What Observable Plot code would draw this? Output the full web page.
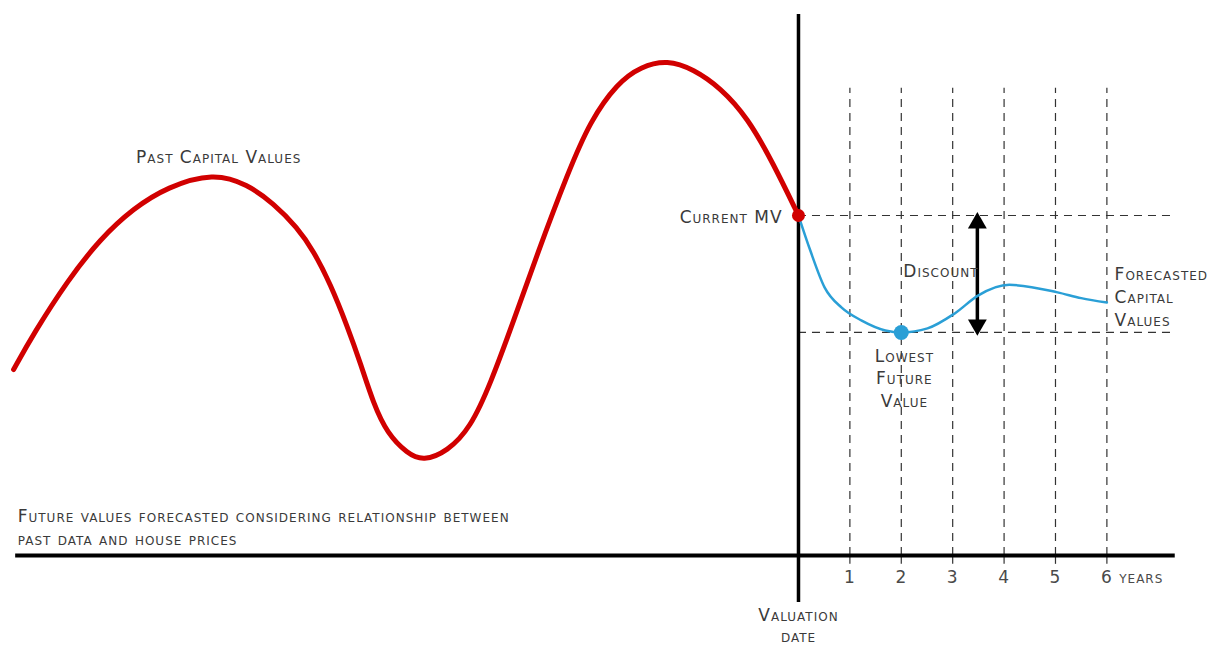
<!DOCTYPE html>
<html>
<head>
<meta charset="utf-8">
<script src="https://cdn.jsdelivr.net/npm/d3@7"></script>
<script src="https://cdn.jsdelivr.net/npm/@observablehq/plot@0.6"></script>
<style>
  html, body { margin: 0; padding: 0; background: #fff; }
  #chart svg { display: block; }
</style>
</head>
<body>
<div id="chart"></div>
<script>
// Past capital values (years relative to valuation date, index with current MV = 100)
const pastYears = [-15.27, -14.88, -14.22, -13.58, -12.94, -12.28, -11.38, -10.72, -10.21, -9.75, -9.44, -9.11, -8.77, -8.52, -8.27, -8.00, -7.61, -7.30, -6.83, -6.38, -5.99, -5.54, -5.08, -4.49, -4.05, -3.52, -3.07, -2.55, -2.04, -1.52, -0.99, -0.49, 0];
const pastValues = [54.7, 65.3, 80.9, 93.2, 102.1, 108.4, 112.6, 109.2, 103.5, 96.5, 89.7, 80.0, 67.1, 56.5, 44.7, 35.9, 30.0, 27.8, 30.6, 37.6, 50.6, 69.1, 88.8, 112.4, 127.9, 139.0, 143.8, 145.8, 143.0, 137.6, 128.8, 115.3, 100];

// Forecasted capital values
const forecastYears = [0, 0.23, 0.51, 0.84, 1.23, 1.69, 2.0, 2.51, 3.04, 3.50, 4.1, 5.04, 5.5, 6.0];
const forecastValues = [100, 89.7, 78.8, 72.9, 69.1, 66.2, 65.6, 66.8, 71.2, 76.5, 79.6, 77.4, 75.7, 74.4];

const currentMV = 100;
const lowestYear = 2;
const lowestValue = 65.6;
const discountYear = 3.48;

const tickYears = [1, 2, 3, 4, 5, 6];
const tickLabels = ["1", "2", "3", "4", "5", "6"];

const past = pastYears.map((x, i) => ({x, y: pastValues[i]}));
const forecast = forecastYears.map((x, i) => ({x, y: forecastValues[i]}));
const ticks = tickYears.map((x, i) => ({x, label: tickLabels[i]}));

const ink = "#333";
const red = "#d10000";
const blue = "#2a9fd6";
const font = {fontVariant: "small-caps", fill: "#3a3a3a", fontSize: 17};

const chart = Plot.plot({
  width: 1217,
  height: 645,
  margin: 0,
  x: {domain: [-15.525, 8.152], range: [0, 1217], axis: null},
  y: {domain: [-26.47, 163.24], range: [645, 0], axis: null},
  style: {fontFamily: "'DejaVu Sans', sans-serif", background: "#fff", letterSpacing: "1px"},
  marks: [
    // dashed guides
    Plot.ruleX(tickYears, {y1: 0, y2: 137.4, stroke: ink, strokeWidth: 1.2, strokeDasharray: "8,6"}),
    Plot.ruleY([currentMV, lowestValue], {x1: 0, x2: 7.25, stroke: ink, strokeWidth: 1.2, strokeDasharray: "8,6"}),
    // tick marks below axis
    Plot.ruleX(tickYears, {y1: -2.6, y2: 0, stroke: ink, strokeWidth: 1.2}),
    // axes
    Plot.ruleY([0], {x1: -15.23, x2: 7.33, stroke: "#000", strokeWidth: 4}),
    Plot.ruleX([0], {y1: -13.8, y2: 159.1, stroke: "#000", strokeWidth: 3.5}),
    // discount arrow
    Plot.ruleX([discountYear], {y1: lowestValue + 2.5, y2: currentMV - 2.5, stroke: "#000", strokeWidth: 3.5}),
    Plot.dot([{x: discountYear, y: currentMV - 2.2}], {x: "x", y: "y", symbol: "triangle", r: 7, fill: "#000", stroke: "none"}),
    Plot.dot([{x: discountYear, y: lowestValue + 2.2}], {x: "x", y: "y", symbol: "triangle", r: 7, fill: "#000", stroke: "none", rotate: 180}),
    // series
    Plot.line(forecast, {x: "x", y: "y", stroke: blue, strokeWidth: 2.5, curve: "monotone-x"}),
    Plot.line(past, {x: "x", y: "y", stroke: red, strokeWidth: 5, curve: "basis"}),
    Plot.dot([{x: 0, y: currentMV}], {x: "x", y: "y", r: 6.5, fill: red}),
    Plot.dot([{x: lowestYear, y: lowestValue}], {x: "x", y: "y", r: 7.5, fill: blue}),
    // tick labels
    Plot.text(ticks, {x: "x", y: -6.5, text: "label", fontSize: 17, fill: "#4a4a4a"}),
    Plot.text(["years"], {x: 6.24, y: -6.5, text: d => d, textAnchor: "start", ...font, fill: "#4a4a4a"}),
    // annotations
    Plot.text(["Past Capital Values"], {x: -11.28, y: 117.1, text: d => d, ...font}),
    Plot.text(["Current MV"], {x: -0.31, y: 99.4, text: d => d, textAnchor: "end", ...font}),
    Plot.text(["Discount"], {x: 2.04, y: 83.4, text: d => d, textAnchor: "start", ...font}),
    Plot.text(["Forecasted\nCapital\nValues"], {x: 6.15, y: 82.6, text: d => d, textAnchor: "start", lineAnchor: "top", lineHeight: 1.36, ...font, dy: -11}),
    Plot.text(["Lowest\nFuture\nValue"], {x: 2.06, y: 58.5, text: d => d, lineAnchor: "top", lineHeight: 1.33, ...font, dy: -11}),
    Plot.text(["Future values forecasted considering relationship between\npast data and house prices"], {x: -15.19, y: 11.5, text: d => d, textAnchor: "start", lineAnchor: "top", lineHeight: 1.36, ...font, dy: -11}),
    Plot.text(["Valuation\ndate"], {x: 0, y: -18.2, text: d => d, lineAnchor: "top", lineHeight: 1.22, ...font, dy: -11})
  ]
});
document.getElementById("chart").appendChild(chart);
</script>
</body>
</html>
